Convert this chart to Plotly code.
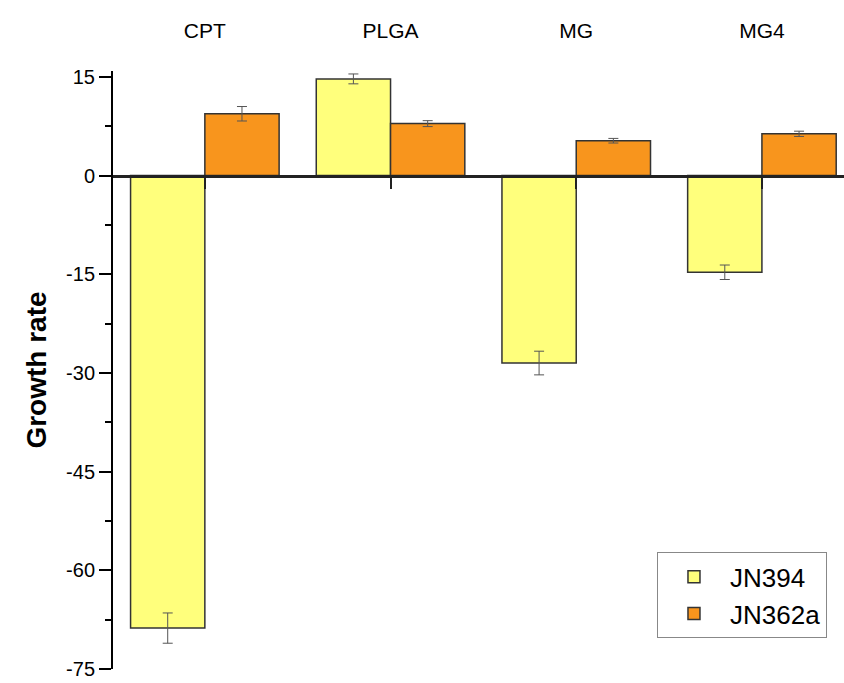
import plotly.graph_objects as go

# Data
categories = ["CPT", "PLGA", "MG", "MG4"]
jn394 = [-68.8, 14.7, -28.5, -14.7]
jn394_err = [2.3, 0.75, 1.8, 1.1]
jn362a = [9.4, 7.9, 5.3, 6.35]
jn362a_err = [1.1, 0.45, 0.35, 0.4]

y_min, y_max = -75.02, 15.9
y_ticks = [-75, -60, -45, -30, -15, 0, 15]
y_ticktext = ["-75", "-60", "-45", "-30", "-15", "0", "15"]

FONT = "Arial, Liberation Sans, sans-serif"
idx = list(range(len(categories)))

fig = go.Figure()
fig.add_trace(go.Bar(
    x=idx, y=jn394, name="JN394",
    marker=dict(color="#FFFF7C", line=dict(color="#333333", width=1.5)),
    error_y=dict(type="data", array=jn394_err, color="#555555", thickness=1, width=5),
))
fig.add_trace(go.Bar(
    x=idx, y=jn362a, name="JN362a",
    marker=dict(color="#F8951D", line=dict(color="#333333", width=1.5)),
    error_y=dict(type="data", array=jn362a_err, color="#555555", thickness=1, width=5),
))
# invisible trace carrying the top category labels
fig.add_trace(go.Scatter(x=idx, y=[0] * 4, xaxis="x2", mode="markers",
                         marker=dict(opacity=0), showlegend=False, hoverinfo="skip"))

zero_pos = (0 - y_min) / (y_max - y_min)

fig.update_layout(
    width=844, height=683,
    margin=dict(l=112, r=0, t=71, b=14, autoexpand=False),
    paper_bgcolor="white", plot_bgcolor="white",
    barmode="group", bargap=0.2, bargroupgap=0,
    font=dict(family=FONT, color="black"),
    xaxis=dict(
        range=[-0.5, 3.442], anchor="free", position=zero_pos, automargin=False,
        showline=True, linecolor="#222222", linewidth=3,
        tickvals=idx, ticks="outside", ticklen=11, tickwidth=1.5, tickcolor="#222222",
        showticklabels=False, showgrid=False, zeroline=False,
    ),
    xaxis2=dict(
        range=[-0.5, 3.442], overlaying="x", side="top", anchor="y", automargin=False,
        tickvals=idx, ticktext=categories, ticks="", showline=False,
        showgrid=False, zeroline=False, ticklabelstandoff=28,
        tickfont=dict(size=21, family=FONT),
    ),
    yaxis=dict(
        range=[y_min, y_max], anchor="free", position=0, automargin=False,
        showline=True, linecolor="black", linewidth=2,
        tickvals=y_ticks, ticktext=y_ticktext, ticklabeloverflow="allow",
        ticks="outside", ticklen=12, tickwidth=2, tickcolor="black",
        minor=dict(dtick=7.5, tick0=0, ticks="outside", ticklen=6, tickwidth=2, tickcolor="black"),
        tickfont=dict(size=20, family=FONT),
        showgrid=False, zeroline=False,
        title=dict(text="<b>Growth rate</b>", font=dict(size=28, family=FONT), standoff=10),
    ),
    legend=dict(
        x=0.7445, y=0.195, xanchor="left", yanchor="top",
        bordercolor="#888888", borderwidth=1, bgcolor="white",
        font=dict(size=26, family=FONT), itemwidth=62,
    ),
)

fig.write_html("out.html")
